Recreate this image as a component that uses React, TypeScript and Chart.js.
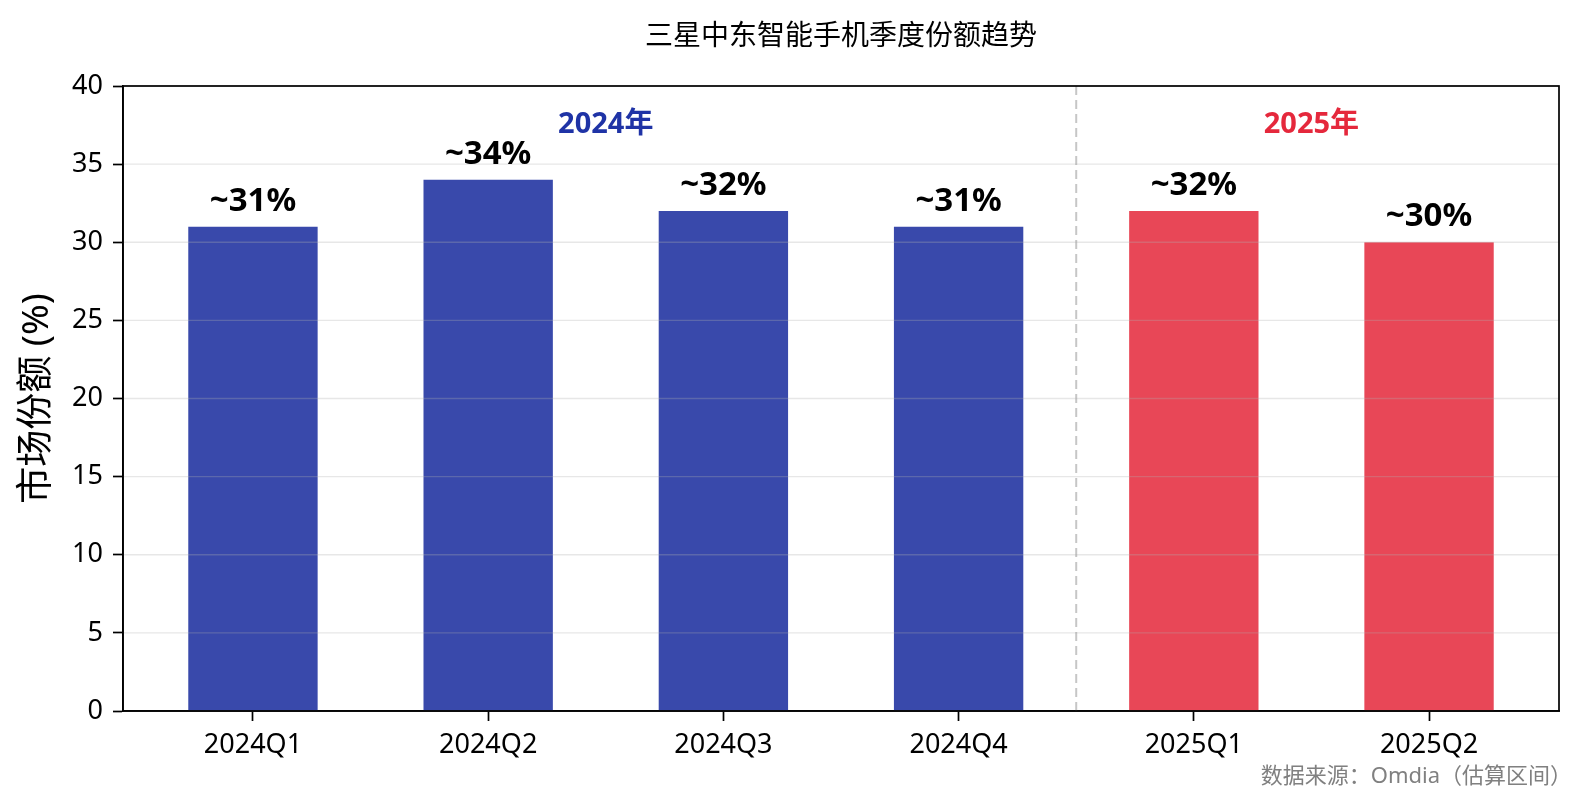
import React, { useEffect, useRef } from "react";
import { Chart, registerables } from "chart.js";

Chart.register(...registerables);

const categories = ["2024Q1", "2024Q2", "2024Q3", "2024Q4", "2025Q1", "2025Q2"];
const shareValues = [31, 34, 32, 31, 32, 30];
const barColors = ["#3949AB", "#3949AB", "#3949AB", "#3949AB", "#E84757", "#E84757"];
const yearLabels = ["2024年", "2025年"];
const yearLabelX = [1.5, 4.5];
const yearLabelColors = ["#1F33A6", "#E5283C"];
const yTicks = [0, 5, 10, 15, 20, 25, 30, 35, 40];
const titleText = "三星中东智能手机季度份额趋势";
const yTitleText = "市场份额 (%)";
const footerText = "数据来源：Omdia（估算区间）";

const FONT = "'Noto Sans', 'Noto Sans CJK SC', sans-serif";
const CJK = "'Noto Sans CJK SC', 'Noto Sans', sans-serif";

const overlayPlugin = {
  id: "overlay",
  afterDatasetsDraw(chart: any) {
    const { ctx, chartArea } = chart;
    const xs = chart.scales.x;
    const ys = chart.scales.y;
    ctx.save();
    // grid lines above bars (matplotlib style, alpha)
    ctx.strokeStyle = "rgba(176,176,176,0.3)";
    ctx.lineWidth = 1.3;
    for (const t of yTicks) {
      const y = ys.getPixelForValue(t);
      ctx.beginPath();
      ctx.moveTo(chartArea.left, y);
      ctx.lineTo(chartArea.right, y);
      ctx.stroke();
    }
    // dashed separator
    const sx = xs.getPixelForValue(3.5);
    ctx.strokeStyle = "rgba(160,160,160,0.6)";
    ctx.lineWidth = 2;
    ctx.setLineDash([9, 5]);
    ctx.beginPath();
    ctx.moveTo(sx, chartArea.top);
    ctx.lineTo(sx, chartArea.bottom);
    ctx.stroke();
    ctx.setLineDash([]);
    // frame
    ctx.strokeStyle = "#000";
    ctx.lineWidth = 1.7;
    ctx.strokeRect(chartArea.left, chartArea.top, chartArea.right - chartArea.left, chartArea.bottom - chartArea.top);
    // value labels
    const meta = chart.getDatasetMeta(0);
    ctx.fillStyle = "#000";
    ctx.font = `bold 33px ${FONT}`;
    ctx.textAlign = "center";
    ctx.textBaseline = "alphabetic";
    meta.data.forEach((el: any, i: number) => {
      ctx.fillText(`~${shareValues[i]}%`, el.x, el.y - 16);
    });
    // year labels
    ctx.font = `bold 29px ${FONT}`;
    yearLabels.forEach((lab, i) => {
      ctx.fillStyle = yearLabelColors[i];
      ctx.fillText(lab, xs.getPixelForValue(yearLabelX[i]), ys.getPixelForValue(37));
    });
    // title
    ctx.fillStyle = "#000";
    ctx.font = `28px ${CJK}`;
    ctx.fillText(titleText, (chartArea.left + chartArea.right) / 2, 45);
    // footer
    ctx.fillStyle = "#808080";
    ctx.font = `22px ${FONT}`;
    ctx.textAlign = "right";
    ctx.fillText(footerText, chartArea.right + 13, 783);
    // y title
    ctx.translate(37, (chartArea.top + chartArea.bottom) / 2);
    ctx.rotate(-Math.PI / 2);
    ctx.fillStyle = "#000";
    ctx.font = `37px ${FONT}`;
    ctx.textAlign = "center";
    ctx.textBaseline = "middle";
    ctx.fillText(yTitleText, 0, 0);
    ctx.restore();
  },
};

export default function App() {
  const ref = useRef<HTMLCanvasElement | null>(null);
  useEffect(() => {
    document.body.style.margin = "0";
    const canvas = ref.current!;
    const chart = new Chart(canvas, {
      type: "bar",
      data: {
        datasets: [
          {
            data: categories.map((_, i) => ({ x: i, y: shareValues[i] })),
            backgroundColor: barColors,
            borderWidth: 0,
            categoryPercentage: 1,
            barPercentage: 0.55,
          },
        ],
      },
      options: {
        responsive: false,
        animation: false,
        devicePixelRatio: 1,
        layout: { padding: { top: 86, right: 34, left: 0, bottom: 0 } },
        plugins: { legend: { display: false }, tooltip: { enabled: false }, title: { display: false } },
        scales: {
          x: {
            type: "linear",
            min: -0.5525,
            max: 5.5525,
            offset: false,
            afterBuildTicks: (scale: any) => {
              scale.ticks = categories.map((_, i) => ({ value: i }));
            },
            afterFit: (scale: any) => {
              scale.height = 98;
            },
            ticks: {
              autoSkip: false,
              maxRotation: 0,
              padding: 8,
              color: "#000",
              font: { family: FONT, size: 27 },
              callback: (v: any) => categories[v] ?? "",
            },
            grid: {
              drawOnChartArea: false,
              offset: false,
              tickLength: 10,
              tickColor: "#000",
              tickWidth: 1.7,
            },
            border: { display: true, color: "#000", width: 1.7 },
          },
          y: {
            min: 0,
            max: 40,
            afterBuildTicks: (scale: any) => {
              scale.ticks = yTicks.map((v) => ({ value: v }));
            },
            afterFit: (scale: any) => {
              scale.width = 123;
            },
            ticks: {
              padding: 10,
              color: "#000",
              font: { family: FONT, size: 27 },
            },
            grid: {
              drawOnChartArea: false,
              tickLength: 10,
              tickColor: "#000",
              tickWidth: 1.7,
            },
            border: { display: true, color: "#000", width: 1.7 },
          },
        },
      },
      plugins: [overlayPlugin],
    } as any);
    return () => chart.destroy();
  }, []);
  return (
    <div style={{ position: "fixed", left: 0, top: 0, width: 1593, height: 809, background: "#fff" }}>
      <canvas ref={ref} width={1593} height={809} />
    </div>
  );
}
